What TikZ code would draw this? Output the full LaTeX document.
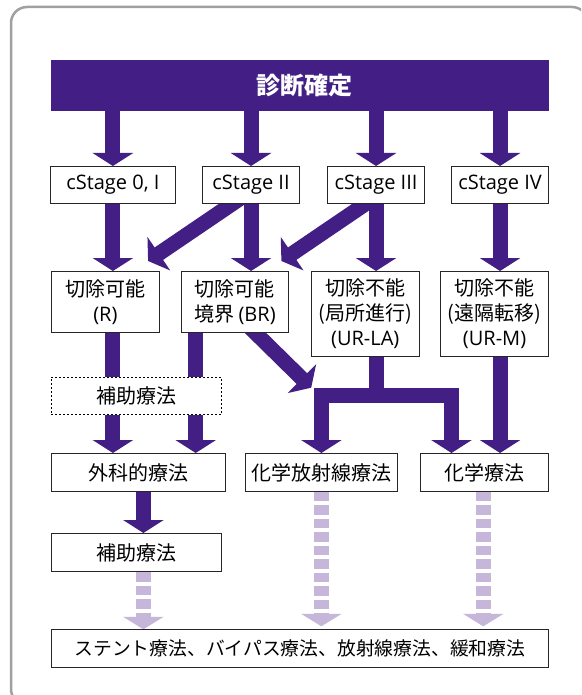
\documentclass[tikz,border=0pt]{standalone}
\usepackage{fontspec}
\setmainfont{Noto Sans CJK JP}
\newfontfamily\lat{Open Sans}
\usetikzlibrary{arrows.meta,calc}
\pgfdeclarelayer{bg}
\pgfdeclarelayer{paper}
\pgfsetlayers{paper,bg,main}
\definecolor{dp}{RGB}{66,30,133}
\definecolor{lp}{RGB}{197,182,218}
\definecolor{fr}{RGB}{160,160,160}
\begin{document}
\begin{tikzpicture}[x=1pt,y=-1pt,
  box/.style={draw=black!85, line width=1.1pt, fill=white, anchor=north west, inner sep=0pt, align=center, font=\fontsize{20}{25}\selectfont},
  dbox/.style={box, draw=black, dash pattern=on 2pt off 2pt},
  arr/.style={draw=dp, line width=15pt, -{Triangle[width=40pt,length=13pt]}},
  larr/.style={draw=lp, line width=15pt, dash pattern=on 9.5pt off 4pt, -{Triangle[width=40pt,length=12.5pt]}},
  seg/.style={draw=dp, line width=15pt}]
\useasboundingbox (0,0) rectangle (581,695);
\begin{pgfonlayer}{paper}
\clip (0,0) rectangle (581,695);
\fill[white] (0,0) rectangle (581,695);
\draw[fr, line width=2.5pt, rounded corners=16pt] (11,7) rectangle (588,705);
\end{pgfonlayer}

% nodes
\node[box, fill=dp, draw=none, text=white, font=\fontsize{24}{28}\selectfont\bfseries, minimum width=498.5pt, minimum height=51pt] (ban) at (50,59) {\hspace*{10pt}診断確定};
\node[box, minimum width=124.7pt, minimum height=37pt] (s1) at (50,166) {\lat cStage 0, I};
\node[box, minimum width=97pt, minimum height=37pt] (s2) at (202,166) {\lat cStage II};
\node[box, minimum width=97pt, minimum height=37pt] (s3) at (327,166) {\lat cStage III};
\node[box, minimum width=97pt, minimum height=37pt] (s4) at (451,166) {\lat cStage IV};

\node[box, minimum width=108.3pt, minimum height=61pt] (r) at (50.7,271) {切除可能\\{\lat (R)}};
\node[box, minimum width=107.3pt, minimum height=61pt] (br) at (180.7,271) {切除可能\\境界 {\lat (BR)}};
\node[box, minimum width=108pt, minimum height=84.7pt] (urla) at (310.7,271) {切除不能\\(局所進行)\\{\lat (UR-LA)}};
\node[box, minimum width=108pt, minimum height=84.7pt] (urm) at (440,271) {切除不能\\(遠隔転移)\\{\lat (UR-M)}};

\node[dbox, minimum width=170.3pt, minimum height=37.3pt] (adj1) at (50.7,376.7) {補助療法};

\node[box, minimum width=174.3pt, minimum height=37.7pt] (surg) at (50.7,453) {外科的療法};
\node[box, minimum width=152.3pt, minimum height=37.7pt] (crt) at (244.7,453) {化学放射線療法};
\node[box, minimum width=128pt, minimum height=37.7pt] (chemo) at (420,453) {化学療法};

\node[box, minimum width=170.3pt, minimum height=38pt] (adj2) at (50.7,533) {補助療法};
\node[box, minimum width=497.3pt, minimum height=37.7pt, font=\fontsize{18.8}{24}\selectfont] (bot) at (50.7,629.3) {ステント療法、バイパス療法、放射線療法、緩和療法};

\coordinate (jl) at ($(crt.north)+(0,-58)$);
\coordinate (jr) at ($(chemo.north west)+(31.5,-58)$);

\begin{pgfonlayer}{bg}
% banner to stages
\draw[arr] (ban.south -| s1) -- (s1.north);
\draw[arr] (ban.south -| s2) -- (s2.north);
\draw[arr] (ban.south -| s3) -- (s3.north);
\draw[arr] (ban.south -| s4) -- (s4.north);
% stages to resectability
\draw[arr] (s1.south) -- (s1.south |- r.north);
\draw[arr] (s2.south) -- (s2.south |- br.north);
\draw[arr] ($(s2.south)+(-10.8,-5.7)$) -- ($(r.north east)+(-12,-10)$);
\draw[arr] (s3.south) -- (s3.south |- urla.north);
\draw[arr] ($(s3.south)+(-2.5,-5.7)$) -- ($(br.north east)+(-7.7,-10)$);
\draw[arr] (s4.south) -- (s4.south |- urm.north);
% to treatments
\draw[arr] (r.south -| s1) -- (surg.north -| s1);
\draw[arr] ($(br.south west)+(15,0)$) -- ($(br.south west |- surg.north)+(15,0)$);
\draw[arr] ($(br.south)+(13.6,-7)$) -- ($(jl)+(-10.2,-7.3)$);
\draw[seg] (urla.south -| s3) -- (jl -| s3);
\draw[arr, line join=miter] (jr) -- (jl) -- (crt.north);
\draw[arr, line join=miter] (jl) -- (jr) -- (jr |- chemo.north);
\draw[arr] (urm.south -| s4) -- (chemo.north -| s4);
\draw[arr] ($(surg.south)+(5,0)$) -- ($(adj2.north -| surg.south)+(5,0)$);
% light arrows
\draw[larr] ($(adj2.south)+(7,0)$) -- ($(bot.north -| adj2.south)+(7,0)$);
\draw[larr] (crt.south) -- ($(bot.north -| crt.south)+(0,-3)$);
\draw[larr] ($(chemo.south)+(-1.3,0)$) -- ($(bot.north -| chemo.south)+(-1.3,-3)$);
\end{pgfonlayer}
\end{tikzpicture}
\end{document}
